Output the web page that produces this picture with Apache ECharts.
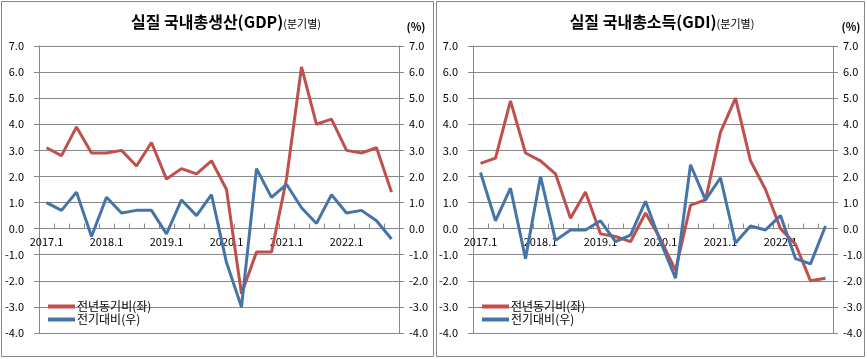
<!DOCTYPE html>
<html>
<head>
<meta charset="utf-8">
<script src="https://cdn.jsdelivr.net/npm/echarts@6/dist/echarts.min.js"></script>
<style>
html,body{margin:0;padding:0;background:#fff;}
#chart{width:867px;height:359px;}
</style>
</head>
<body>
<div id="chart"></div>
<script>
var categories = ['2017.1','2017.2','2017.3','2017.4','2018.1','2018.2','2018.3','2018.4',
  '2019.1','2019.2','2019.3','2019.4','2020.1','2020.2','2020.3','2020.4',
  '2021.1','2021.2','2021.3','2021.4','2022.1','2022.2','2022.3','2022.4'];
var gdpYoY = [3.1,2.8,3.9,2.9,2.9,3.0,2.4,3.3,1.9,2.3,2.1,2.6,1.5,-2.5,-0.9,-0.9,1.9,6.2,4.0,4.2,3.0,2.9,3.1,1.4];
var gdpQoQ = [1.0,0.7,1.4,-0.3,1.2,0.6,0.7,0.7,-0.2,1.1,0.5,1.3,-1.3,-3.0,2.3,1.2,1.7,0.8,0.2,1.3,0.6,0.7,0.3,-0.4];
var gdiYoY = [2.5,2.7,4.9,2.9,2.6,2.1,0.4,1.4,-0.2,-0.3,-0.5,0.6,-0.4,-1.6,0.9,1.1,3.7,5.0,2.6,1.5,0.0,-0.6,-2.0,-1.9];
var gdiQoQ = [2.15,0.3,1.55,-1.15,2.0,-0.45,-0.05,-0.05,0.3,-0.5,-0.25,1.05,-0.5,-1.9,2.45,1.1,1.95,-0.55,0.1,-0.05,0.5,-1.15,-1.35,0.1];
var titles = ['실질 국내총생산(GDP)', '실질 국내총소득(GDI)'];
var subTitle = '(분기별)';
var unitLabel = '(%)';
var seriesNames = ['전년동기비(좌)', '전기대비(우)'];
var yMin = -4, yMax = 7;

var FONT = "'Noto Sans CJK KR', 'Noto Sans', sans-serif";
var GRAY = '#878787';
var RED = '#C0504D';
var BLUE = '#4574A8';

var grids = [
  {left: 39, top: 46, width: 360, height: 287},
  {left: 473, top: 46, width: 360, height: 287}
];

function xAxis(i) {
  return {
    type: 'category', gridIndex: i, data: categories, boundaryGap: true, position: 'bottom', offset: 0,
    axisLine: {show: true, onZero: false, lineStyle: {color: GRAY, width: 1}},
    axisTick: {show: true, inside: true, length: 5, interval: 0, lineStyle: {color: GRAY}},
    axisLabel: {interval: 3, margin: 8, fontSize: 11, color: '#000', fontFamily: FONT, hideOverlap: false},
    splitLine: {show: false}
  };
}
function yAxis(i, pos) {
  return {
    type: 'value', gridIndex: i, min: yMin, max: yMax, interval: 1, position: pos,
    axisLine: {show: true, onZero: false, lineStyle: {color: GRAY}},
    axisTick: {show: true, length: 5, lineStyle: {color: GRAY}},
    axisLabel: {margin: pos === 'left' ? 15 : 10, fontSize: 11, color: '#000', fontFamily: FONT,
      formatter: function (v) { return v.toFixed(1); }},
    splitLine: {show: pos === 'left', lineStyle: {color: GRAY, width: 1}}
  };
}
function line(name, data, xi, yi, color) {
  return {
    name: name, type: 'line', data: data, xAxisIndex: xi, yAxisIndex: yi,
    symbol: 'none', smooth: false, animation: false,
    lineStyle: {color: color, width: 3}, itemStyle: {color: color}
  };
}
function title(i, x) {
  return {
    text: '{a|' + titles[i] + '}{b|' + subTitle + '}',
    left: x, top: 14, textAlign: 'center', padding: 0,
    textStyle: {
      rich: {
        a: {fontSize: 16, fontWeight: 'bold', color: '#000', fontFamily: FONT, verticalAlign: 'bottom'},
        b: {fontSize: 11, fontWeight: 'normal', color: '#000', fontFamily: FONT, verticalAlign: 'bottom', padding: [0,0,1,0]}
      }
    }
  };
}
function legend(x) {
  return {
    orient: 'vertical', left: x, top: 300, padding: 0, itemGap: 0,
    itemWidth: 27, itemHeight: 4, icon: 'rect',
    textStyle: {fontSize: 12, color: '#000', fontFamily: FONT, lineHeight: 13, padding: [0,0,0,-3]},
    data: seriesNames
  };
}

var chart = echarts.init(document.getElementById('chart'), null, {renderer: 'canvas'});
chart.setOption({
  backgroundColor: '#fff',
  animation: false,
  title: [title(0, 226), title(1, 662)],
  legend: [legend(48), legend(482)],
  grid: grids,
  xAxis: [xAxis(0), xAxis(1)],
  yAxis: [yAxis(0, 'left'), yAxis(0, 'right'), yAxis(1, 'left'), yAxis(1, 'right')],
  series: [
    line(seriesNames[0], gdpYoY, 0, 0, RED),
    line(seriesNames[1], gdpQoQ, 0, 1, BLUE),
    line(seriesNames[0], gdiYoY, 1, 2, RED),
    line(seriesNames[1], gdiQoQ, 1, 3, BLUE)
  ],
  graphic: [
    {type: 'rect', silent: true, shape: {x: 1.5, y: 1.5, width: 432, height: 355}, style: {fill: 'none', stroke: GRAY, lineWidth: 1}},
    {type: 'rect', silent: true, shape: {x: 436.5, y: 1.5, width: 428, height: 355}, style: {fill: 'none', stroke: GRAY, lineWidth: 1}},
    {type: 'text', silent: true, x: 416, y: 27, style: {text: unitLabel, font: 'bold 11px ' + FONT, fill: '#000', align: 'center', verticalAlign: 'middle'}},
    {type: 'text', silent: true, x: 851, y: 27, style: {text: unitLabel, font: 'bold 11px ' + FONT, fill: '#000', align: 'center', verticalAlign: 'middle'}}
  ]
});

// Place each category axis on the zero line of its value axis (library scale)
var offs = [0, 2].map(function (yi) {
  var y0 = chart.convertToPixel({yAxisIndex: yi}, 0);
  var yb = chart.convertToPixel({yAxisIndex: yi}, yMin);
  return y0 - yb;
});
chart.setOption({xAxis: [{offset: offs[0]}, {offset: offs[1]}]});
</script>
</body>
</html>
